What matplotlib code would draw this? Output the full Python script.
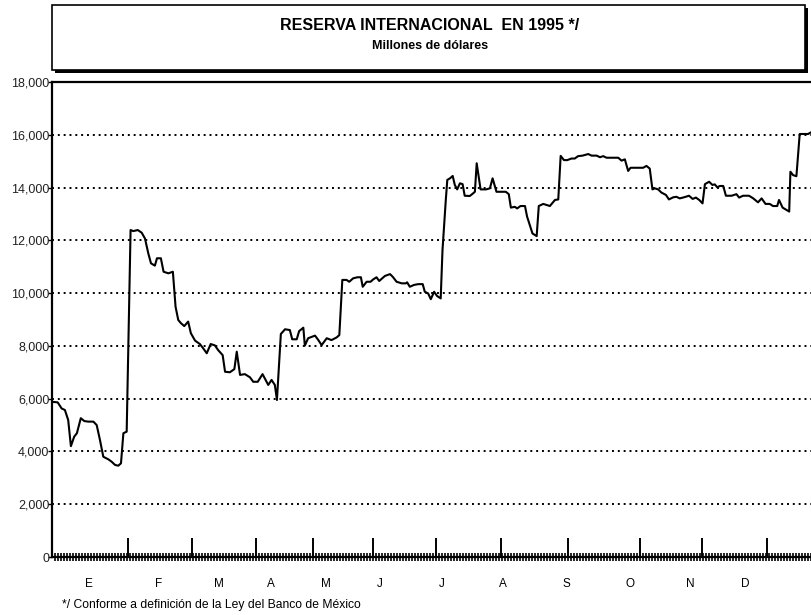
import numpy as np
import matplotlib.pyplot as plt
from matplotlib.patches import Rectangle
from matplotlib.ticker import FuncFormatter, MultipleLocator

# x = business-day index from 2 Jan 1995, y = millions of dollars
day = [0, 1.8, 3.1, 4.2, 5.3, 6.2, 7.3, 8.2, 9.5, 10.7, 12, 13.7, 14.8, 15.9,
       17, 18.7, 19.8, 20.9, 22, 22.9, 23.7, 24.8, 26.1, 27, 28.5, 29.8, 30.9,
       32, 32.9, 34.2, 34.9, 36.2, 37.1, 38.7, 40.2, 41.1, 42, 42.9, 44, 45.3,
       46.2, 47.6, 49.2, 50.3, 51.5, 52.8, 54.2, 55.3, 56.8, 57.6, 59.2, 60.7,
       61.5, 62.6, 64.2, 65.9, 67, 68.5, 70.1, 72, 73.1, 74.2, 74.9, 76.2,
       77.6, 79.2, 80, 81.5, 82.3, 83.7, 84.2, 85.3, 87.6, 88.7, 89.8, 91.5,
       93.1, 94.8, 95.7, 96.7, 98.1, 99, 100.3, 101.7, 102.9, 103.5, 104.8,
       106.1, 107, 108.1, 109, 110.9, 112.6, 113.5, 114.8, 116.5, 117.9, 118.3,
       119.2, 120.6, 122, 123.5, 124.2, 125.3, 126.2, 127.3, 128.3, 129.5,
       130.1, 131.2, 131.7, 132.6, 133.5, 134.2, 135, 135.9, 136.8, 137.5,
       139.2, 140.3, 140.9, 141.5, 142.8, 144.6, 145.9, 146.8, 148.1, 149.8,
       151.2, 152.2, 152.9, 154.2, 155, 156.1, 157.6, 158.3, 159.2, 160.1,
       161.5, 162.2, 163.7, 164.8, 165.9, 167.6, 168.7, 169.5, 170.6, 171.7,
       173.1, 174.2, 175.3, 176.8, 178.7, 179.8, 181.5, 182.6, 183.7, 184.8,
       187, 188.7, 189.8, 190.9, 192, 192.8, 194.8, 197, 198.1, 199.2, 200.1,
       200.9, 202, 203.1, 204.6, 205.6, 207, 208.1, 209.2, 210.6, 212.3, 213.5,
       214.6, 215.7, 216.8, 217.6, 219, 220.1, 220.9, 221.7, 222.6, 223.7,
       224.6, 226.5, 228.1, 229, 230.3, 232.3, 233.7, 235.3, 236.5, 237.8,
       239.2, 240.3, 241.7, 242.3, 243.5, 244.8, 245.7, 246.1, 247, 248.1,
       249.2, 250.6, 252, 253.1]
reserva = [5880, 5860, 5630, 5570, 5190, 4200, 4560, 4690, 5260, 5150, 5130,
           5130, 5000, 4430, 3800, 3700, 3610, 3490, 3460, 3550, 4690, 4750,
           12390, 12350, 12390, 12290, 12070, 11510, 11130, 11040, 11320, 11320,
           10810, 10750, 10810, 9480, 8980, 8860, 8750, 8920, 8480, 8200, 8070,
           7910, 7720, 8070, 8020, 7840, 7650, 7020, 7000, 7120, 7780, 6900,
           6930, 6810, 6640, 6640, 6930, 6520, 6710, 6520, 5950, 8450, 8630,
           8600, 8250, 8250, 8560, 8690, 8010, 8290, 8390, 8220, 8030, 8290,
           8220, 8320, 8410, 10500, 10500, 10430, 10560, 10600, 10600, 10240,
           10430, 10430, 10520, 10600, 10460, 10650, 10720, 10620, 10430, 10370,
           10370, 10410, 10240, 10310, 10340, 10340, 10050, 9990, 9770, 10050,
           9890, 9800, 11630, 13530, 14290, 14350, 14440, 14100, 13930, 14160,
           14130, 13690, 13680, 13780, 13840, 14920, 13930, 13930, 13970, 14350,
           13840, 13840, 13840, 13750, 13240, 13270, 13210, 13300, 13300, 12900,
           12580, 12260, 12160, 13300, 13380, 13340, 13300, 13530, 13550, 15200,
           15040, 15040, 15100, 15100, 15190, 15210, 15270, 15210, 15210, 15150,
           15190, 15130, 15130, 15130, 15020, 15070, 14630, 14750, 14750, 14750,
           14820, 14720, 13930, 13970, 13930, 13810, 13720, 13550, 13630, 13650,
           13590, 13630, 13690, 13570, 13620, 13530, 13400, 14130, 14220, 14100,
           14120, 14010, 14060, 14060, 13690, 13690, 13750, 13620, 13690, 13690,
           13590, 13440, 13590, 13380, 13380, 13300, 13300, 13530, 13240, 13150,
           13090, 14600, 14470, 14430, 16030, 16030, 16030, 16100]

month_start = [0, 25.2, 46.6, 67.9, 86.9, 106.9, 127.9, 149.6, 171.9, 195.9,
               216.6, 238.2]
month_label_pos = [12.1, 35.6, 55.6, 72.9, 91.4, 109.2, 129.8, 150.1, 171.5,
                   192.6, 212.6, 230.9]
month_labels = ["E", "F", "M", "A", "M", "J", "J", "A", "S", "O", "N", "D"]

y_ticks = np.arange(0, 18001, 2000)

font = ["Liberation Sans", "DejaVu Sans"]

W, H = 812, 615
fig = plt.figure(figsize=(W / 100, H / 100), dpi=100)

# plot area runs off the right edge of the picture
ax = fig.add_axes([52.3 / W, 1 - 557 / H, (W - 52.3) / W, 475 / H])
ax.set_xlim(0, 253.3)
ax.set_ylim(0, 18000)

for v in y_ticks[1:-1]:
    ax.axhline(v, color="black", ls=(0, (1, 2)), lw=1.4, zorder=1)

ax.plot(day, reserva, color="black", lw=1.5, zorder=3)

ax.spines["right"].set_visible(False)
for side in ["left", "top", "bottom"]:
    ax.spines[side].set_linewidth(1.6)

ax.set_yticks(y_ticks)
ax.yaxis.set_major_formatter(FuncFormatter(lambda v, p: f"{int(v):,}"))
ax.tick_params(axis="y", direction="out", length=3, width=1, pad=-1,
               labelsize=9, labelcolor="#222222")
for lab in ax.get_yticklabels():
    lab.set_family(font)

ax.set_xticks(month_start)
ax.set_xticklabels([])
ax.tick_params(axis="x", which="major", direction="in", length=14,
               width=1.4)
ax.xaxis.set_minor_locator(MultipleLocator(1))
ax.tick_params(axis="x", which="minor", direction="inout", length=6,
               width=1.2)

for pos, lab in zip(month_label_pos, month_labels):
    ax.text(pos, -0.057, lab, transform=ax.get_xaxis_transform(),
            ha="center", va="center", fontsize=8.5, family=font)

# title box with drop shadow
fig.patches.append(Rectangle((55 / W, 1 - 73 / H), 753 / W, 65 / H,
                             transform=fig.transFigure, facecolor="black",
                             edgecolor="none", zorder=0))
fig.patches.append(Rectangle((52 / W, 1 - 70 / H), 753 / W, 65 / H,
                             transform=fig.transFigure, facecolor="white",
                             edgecolor="black", lw=1.2, zorder=1))
fig.text(430 / W, 1 - 25 / H, "RESERVA INTERNACIONAL  EN 1995 */",
         ha="center", va="center", fontsize=11.5, fontweight="bold",
         family=font)
fig.text(430 / W, 1 - 46 / H, "Millones de dólares", ha="center",
         va="center", fontsize=9, fontweight="bold", family=font)

fig.text(62 / W, 1 - 605 / H,
         "*/ Conforme a definición de la Ley del Banco de México",
         ha="left", va="center", fontsize=8.7, family=font)

fig.savefig("out.png", dpi=100)
